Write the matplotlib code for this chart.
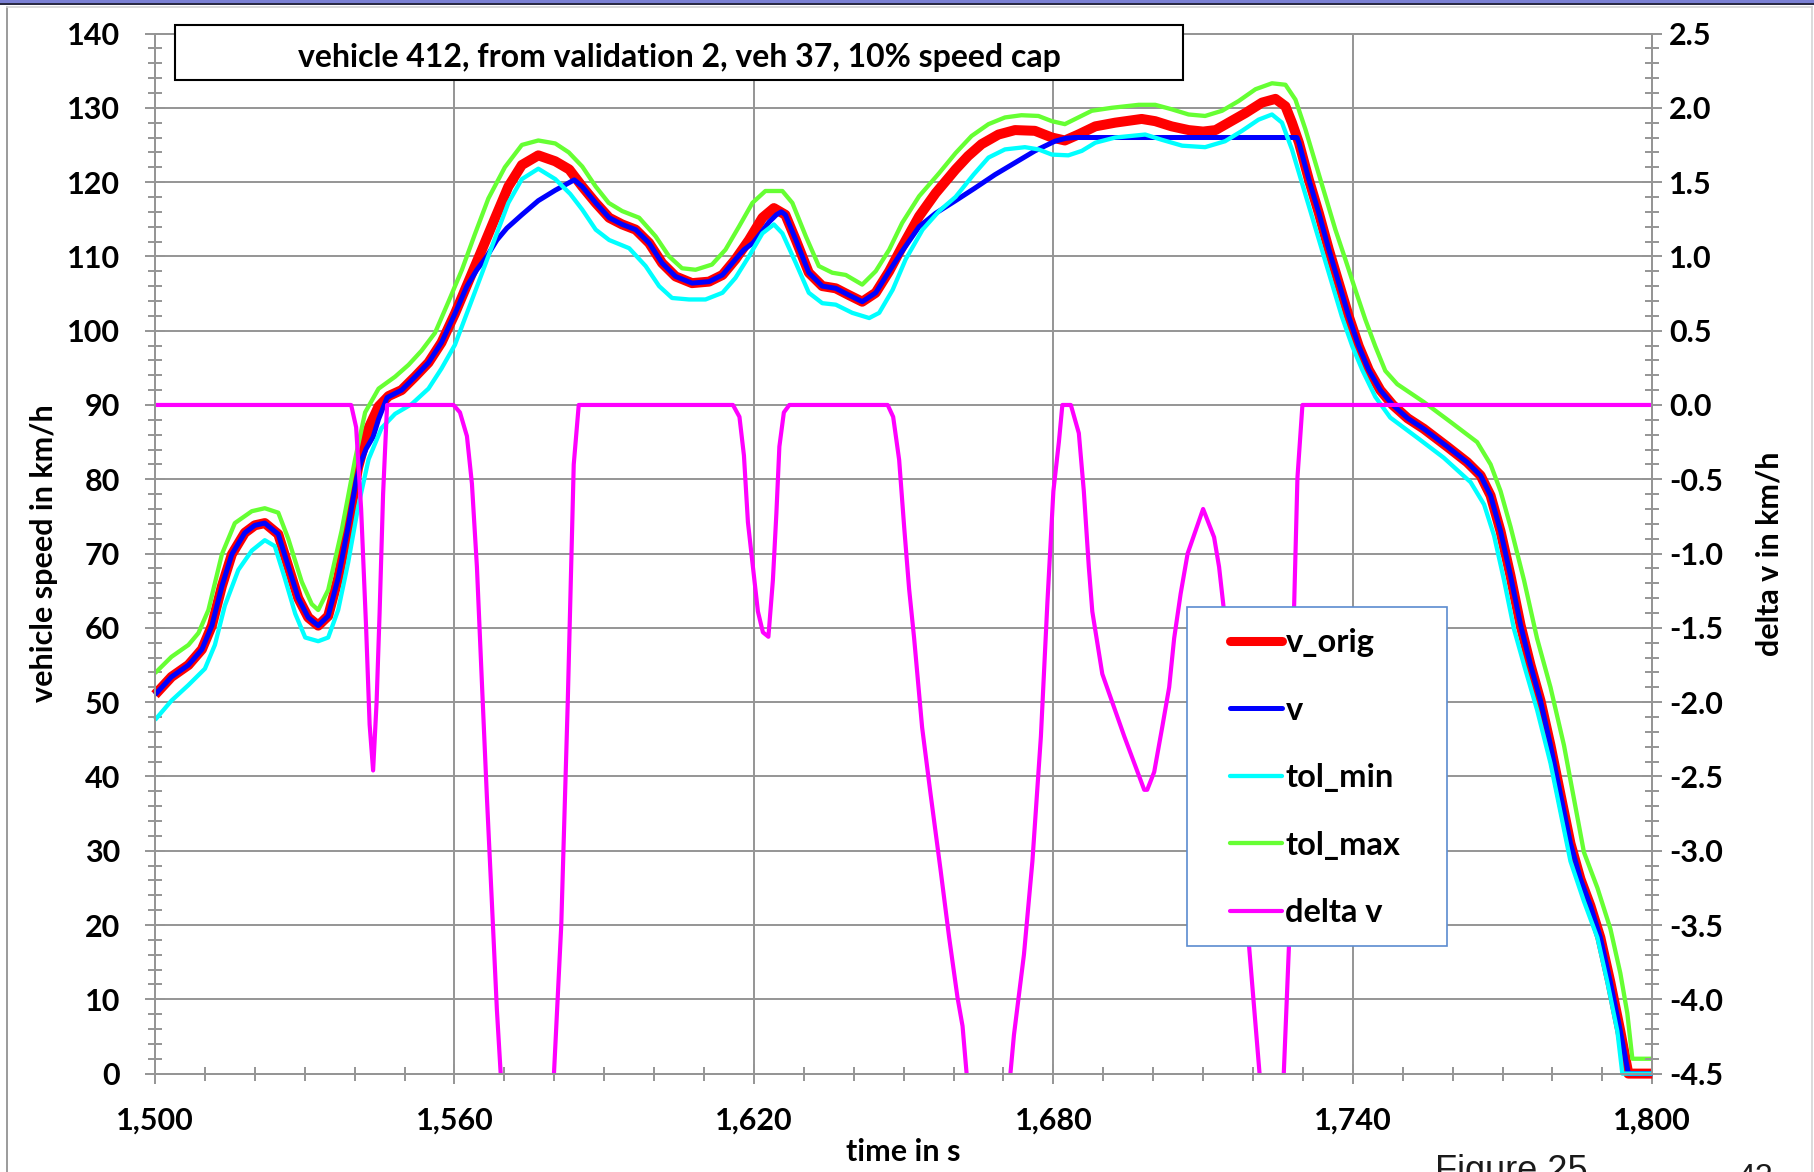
import matplotlib
matplotlib.use("Agg")
import matplotlib.pyplot as plt
from matplotlib.patches import Rectangle
from matplotlib.lines import Line2D
from matplotlib.ticker import MultipleLocator, FuncFormatter

plt.rcParams["font.family"] = ["Lato", "DejaVu Sans"]
plt.rcParams["font.weight"] = "bold"
plt.rcParams["axes.labelweight"] = "bold"
plt.rcParams["axes.unicode_minus"] = False

# ---------------- data (time in s, speed in km/h) ----------------
v_orig_pts = [
    (1500, 51.0), (1503.3, 53.4), (1506.7, 55.0), (1509.4, 57.1), (1511.4, 60.3),
    (1513.4, 65.6), (1515.4, 69.9), (1518, 72.8), (1520, 73.8), (1522, 74.1),
    (1524.7, 72.6), (1526.7, 68.3), (1528.7, 64.0), (1530.7, 61.4), (1532.7, 60.3),
    (1534.7, 61.6), (1536.7, 66.7), (1538.7, 73.6), (1540.7, 81.6), (1542.8, 86.9),
    (1544.8, 89.8), (1546.8, 91.2), (1549.4, 92.0), (1552.1, 93.8), (1554.8, 95.7),
    (1557.4, 98.4), (1560.1, 102.3), (1562.8, 106.6), (1565.5, 110.9), (1568.1, 115.1),
    (1570.8, 119.4), (1573.5, 122.3), (1576.8, 123.6), (1580.2, 122.8), (1583.0, 121.7),
    (1585.6, 119.4), (1588.3, 117.2), (1591, 115.2), (1593.6, 114.3), (1596.3, 113.6),
    (1599, 111.8), (1601.6, 109.1), (1604.3, 107.3), (1607.6, 106.4), (1611, 106.6),
    (1613.7, 107.5), (1616.3, 109.6), (1619, 112.2), (1621.7, 115.2), (1624, 116.5),
    (1626.3, 115.6), (1628.4, 112.2), (1631, 107.8), (1633.7, 106.0), (1636.4, 105.7),
    (1639, 104.8), (1641.7, 103.9), (1644.4, 105.1), (1647.1, 108.0), (1649.7, 111.3),
    (1653.1, 115.4), (1656.4, 118.5), (1660.4, 121.7), (1662.9, 123.5), (1665.6, 125.1),
    (1669, 126.4), (1672.3, 127.0), (1676.3, 126.9), (1679.7, 126.0), (1682.3, 125.6),
    (1685, 126.4), (1688.4, 127.5), (1692.4, 128.0), (1697.7, 128.5), (1700.4, 128.2),
    (1703.7, 127.5), (1707.1, 127.0), (1710, 126.8), (1712.5, 127.0), (1715.1, 128.0),
    (1718.5, 129.3), (1721.8, 130.7), (1724.5, 131.2), (1726.5, 130.2), (1727.8, 128.0),
    (1729.2, 125.3), (1731.2, 120.3), (1733.2, 115.8), (1735.2, 110.9), (1737.2, 106.4),
    (1739.2, 101.9), (1741.2, 97.9), (1743.2, 94.7), (1745.5, 92.0), (1748, 90.0),
    (1751, 88.2), (1754.2, 86.8), (1758.9, 84.4), (1762.9, 82.3), (1765.6, 80.5),
    (1767.6, 77.8), (1769.6, 73.0), (1771.6, 67.0), (1773.6, 60.4), (1775.6, 55.0),
    (1777.6, 50.2), (1779.6, 44.2), (1781.6, 37.6), (1783.6, 31.0), (1785.6, 26.2),
    (1787.6, 22.6), (1789.6, 18.3), (1791.6, 12.3), (1793.6, 5.7), (1795.2, 0.0),
    (1800, 0.0),
]

v_pts = [
    (1500, 51.0), (1503.3, 53.4), (1506.7, 55.0), (1509.4, 57.1), (1511.4, 60.3),
    (1513.4, 65.6), (1515.4, 69.9), (1518, 72.8), (1520, 73.8), (1522, 74.1),
    (1524.7, 72.6), (1526.7, 68.3), (1528.7, 64.0), (1530.7, 61.4), (1532.7, 60.3),
    (1534.7, 61.6), (1536.7, 66.7), (1538.7, 73.6), (1540.3, 79.8), (1541.3, 82.4),
    (1542.3, 84.1), (1543.7, 85.7), (1544.8, 88.1), (1546.5, 91.0), (1549.4, 92.0),
    (1552.1, 93.8), (1554.8, 95.7), (1557.4, 98.4), (1560.1, 102.3), (1562.5, 106.0),
    (1564.5, 108.2), (1566.5, 110.0), (1568.5, 112.2), (1570.5, 113.8), (1573.5, 115.6),
    (1576.8, 117.5), (1580.2, 118.9), (1584.0, 120.3), (1585.6, 119.4), (1588.3, 117.2),
    (1591, 115.2), (1593.6, 114.3), (1596.3, 113.6), (1599, 111.8), (1601.6, 109.1),
    (1604.3, 107.3), (1607.6, 106.4), (1611, 106.6), (1613.7, 107.5), (1616.3, 109.6),
    (1618, 110.9), (1619.8, 111.8), (1621.8, 113.5), (1623, 114.6), (1624.5, 115.6),
    (1625.5, 116.0), (1626.3, 115.6), (1628.4, 112.2), (1631, 107.8), (1633.7, 106.0),
    (1636.4, 105.7), (1639, 104.8), (1641.7, 103.9), (1644.4, 105.1), (1647.1, 108.0),
    (1649.7, 110.7), (1653.1, 114.0), (1656.4, 115.8), (1660.4, 117.5), (1664.3, 119.2),
    (1668.3, 121.0), (1672.3, 122.6), (1676.3, 124.2), (1680.3, 125.5), (1682.5, 125.9),
    (1684.3, 126.0), (1728.8, 126.0), (1729.2, 125.3), (1731.2, 120.3), (1733.2, 115.8),
    (1735.2, 110.9), (1737.2, 106.4), (1739.2, 101.9), (1741.2, 97.9), (1743.2, 94.7),
    (1745.5, 92.0), (1748, 90.0), (1751, 88.2), (1754.2, 86.8), (1758.9, 84.4),
    (1762.9, 82.3), (1765.6, 80.5), (1767.6, 77.8), (1769.6, 73.0), (1771.6, 67.0),
    (1773.6, 60.4), (1775.6, 55.0), (1777.6, 50.2), (1779.6, 44.2), (1781.6, 37.6),
    (1783.6, 31.0), (1785.6, 26.2), (1787.6, 22.6), (1789.6, 18.3), (1791.6, 12.3),
    (1793.6, 5.7), (1795.2, 0.0), (1800, 0.0),
]

tol_min_pts = [
    (1500, 47.6), (1503.3, 50.2), (1506.7, 52.3), (1510, 54.5), (1512, 57.7),
    (1514, 63.0), (1516.7, 67.8), (1519.4, 70.4), (1522, 71.8), (1524, 71.0),
    (1526, 66.7), (1528.1, 61.9), (1530.1, 58.7), (1532.7, 58.2), (1534.7, 58.7),
    (1536.7, 62.4), (1538.7, 68.8), (1540.7, 76.3), (1542.8, 82.7), (1545.4, 86.9),
    (1548.1, 88.8), (1551.4, 90.1), (1554.8, 92.2), (1557.4, 94.9), (1560.1, 98.1),
    (1562.8, 102.9), (1565.5, 107.7), (1568.1, 112.4), (1570.8, 117.2), (1573.5, 120.4),
    (1576.8, 121.8), (1580.2, 120.4), (1583.2, 118.4), (1585.6, 116.3), (1588.3, 113.6),
    (1591, 112.2), (1595, 111.1), (1598.3, 108.7), (1601, 106.0), (1603.6, 104.4),
    (1607, 104.2), (1610.3, 104.2), (1613.7, 105.1), (1616.3, 107.1), (1619, 110.0),
    (1621.7, 113.1), (1624, 114.3), (1625.7, 113.1), (1628.4, 109.1), (1631, 105.1),
    (1633.7, 103.7), (1636.4, 103.5), (1639.7, 102.4), (1643.1, 101.7), (1645.1, 102.4),
    (1647.8, 105.5), (1650.4, 109.6), (1653.8, 113.6), (1657.1, 116.1), (1660.4, 118.0),
    (1664, 121.0), (1667, 123.3), (1670.3, 124.4), (1674.3, 124.7), (1677, 124.4),
    (1679.7, 123.7), (1683, 123.6), (1685.7, 124.2), (1688.4, 125.3), (1692.4, 126.0),
    (1698.4, 126.4), (1701.7, 125.7), (1705.8, 124.9), (1710.4, 124.7), (1714.4, 125.5),
    (1717.8, 126.9), (1721.1, 128.4), (1723.8, 129.1), (1725.8, 128.0), (1727.8, 124.4),
    (1729.8, 119.9), (1731.8, 115.4), (1733.8, 110.9), (1735.8, 106.4), (1737.8, 101.9),
    (1739.9, 97.9), (1741.9, 94.7), (1744.5, 91.1), (1747.5, 88.3), (1752.9, 85.6),
    (1758.2, 82.9), (1763.6, 79.6), (1766.3, 76.6), (1768.3, 72.4), (1770.3, 66.4),
    (1772.3, 59.8), (1774.3, 55.0), (1776.9, 49.0), (1779.6, 41.8), (1781.6, 35.2),
    (1783.6, 28.6), (1786.3, 23.2), (1789, 18.3), (1791, 12.3), (1793, 5.7),
    (1794, 0.0), (1800, 0.0),
]

tol_max_pts = [
    (1500, 53.9), (1503.3, 56.1), (1506.7, 57.7), (1508.7, 59.3), (1510.7, 62.4),
    (1513.4, 69.9), (1516, 74.1), (1519.4, 75.7), (1522, 76.1), (1524.7, 75.5),
    (1526.7, 72.0), (1529.4, 66.2), (1531.4, 63.2), (1532.7, 62.4), (1534.7, 65.1),
    (1537.4, 73.1), (1540.1, 82.7), (1542.1, 89.0), (1544.8, 92.2), (1548.1, 93.8),
    (1550.8, 95.4), (1553.4, 97.3), (1556.1, 99.7), (1558.8, 103.9), (1561.5, 108.2),
    (1564.1, 113.0), (1566.8, 117.8), (1570.1, 122.0), (1573.5, 125.0), (1576.8, 125.6),
    (1580.2, 125.2), (1582.9, 124.0), (1585.6, 122.1), (1588.3, 119.4), (1590.9, 117.2),
    (1593.6, 116.1), (1597, 115.2), (1600.3, 112.7), (1603, 110.0), (1605.6, 108.4),
    (1608.3, 108.2), (1611.6, 108.9), (1614.3, 110.9), (1617, 114.0), (1619.7, 117.2),
    (1622.3, 118.8), (1625.7, 118.8), (1627.7, 117.2), (1630.4, 112.7), (1633, 108.7),
    (1635.7, 107.8), (1638.4, 107.5), (1641.7, 106.2), (1644.4, 108.0), (1647.1, 110.9),
    (1649.7, 114.5), (1653.1, 118.1), (1657.1, 121.2), (1660.4, 123.9), (1663.6, 126.2),
    (1667, 127.8), (1670.3, 128.7), (1673.6, 129.0), (1677, 128.9), (1679.7, 128.2),
    (1682.3, 127.8), (1685, 128.7), (1687.7, 129.6), (1691.7, 130.0), (1697.1, 130.4),
    (1700.4, 130.4), (1703.7, 129.8), (1707.1, 129.1), (1710.4, 128.9), (1713.8, 129.6),
    (1717.1, 130.9), (1720.5, 132.5), (1723.8, 133.3), (1726.5, 133.1), (1728.5, 131.1),
    (1730.5, 127.1), (1732.5, 122.6), (1734.5, 118.1), (1736.5, 113.6), (1738.5, 109.6),
    (1740.5, 105.5), (1742.5, 101.5), (1744.5, 97.9), (1746.5, 94.6), (1748.9, 92.8),
    (1754.2, 90.4), (1759.6, 87.7), (1764.9, 85.0), (1767.6, 82.0), (1769.6, 78.4),
    (1771.6, 73.6), (1774.3, 66.4), (1776.9, 58.6), (1779.6, 52.0), (1782.3, 44.2),
    (1784.3, 37.0), (1786.3, 29.8), (1789, 25.0), (1791.6, 19.5), (1793.6, 13.5),
    (1795, 8.1), (1796, 2.0), (1800, 2.0),
]

# delta v (km/h, secondary axis); values below -4.5 run off the plot area
delta_v_pts = [
    (1500, 0.0), (1539.3, 0.0), (1540.3, -0.15), (1541.3, -0.7), (1542.3, -1.5),
    (1543.0, -2.15), (1543.7, -2.46), (1544.4, -2.0), (1545.0, -1.4), (1545.7, -0.6),
    (1546.5, 0.0), (1559.8, 0.0), (1561.1, -0.05), (1562.5, -0.21), (1563.5, -0.53),
    (1564.5, -1.09), (1565.5, -1.87), (1566.5, -2.64), (1567.5, -3.35), (1568.5, -4.07),
    (1570.5, -5.2), (1573.5, -6.7), (1576.8, -6.1), (1578.5, -5.5), (1579.5, -4.8),
    (1581.4, -3.5), (1582.7, -2.0), (1583.9, -0.4), (1584.9, 0.0), (1615.8, 0.0),
    (1617.1, -0.08), (1618.0, -0.34), (1618.8, -0.79), (1619.8, -1.09), (1620.8, -1.39),
    (1621.8, -1.53), (1622.9, -1.56), (1623.8, -1.18), (1624.5, -0.73), (1625.1, -0.28),
    (1626.0, -0.05), (1627.1, 0.0), (1646.8, 0.0), (1647.9, -0.08), (1649.1, -0.37),
    (1650.1, -0.82), (1651.1, -1.24), (1652.1, -1.57), (1653.7, -2.17), (1655.4, -2.62),
    (1657.4, -3.13), (1659.1, -3.58), (1660.8, -3.99), (1661.8, -4.18), (1664.4, -5.2),
    (1668.3, -5.4), (1670.3, -4.9), (1672.1, -4.24), (1674.1, -3.7), (1675.8, -3.07),
    (1677.5, -2.23), (1678.8, -1.33), (1680.0, -0.58), (1681.1, -0.25), (1681.8, 0.0),
    (1683.5, 0.0), (1685.1, -0.19), (1686.1, -0.58), (1687.1, -1.09), (1687.8, -1.39),
    (1689.8, -1.81), (1694.2, -2.23), (1698.2, -2.59), (1698.8, -2.59), (1700.2, -2.47),
    (1701.8, -2.17), (1703.2, -1.9), (1704.2, -1.57), (1705.5, -1.27), (1706.9, -1.0),
    (1710.0, -0.7), (1712.2, -0.89), (1713.2, -1.09), (1714.2, -1.39), (1716.5, -2.4),
    (1719.2, -3.64), (1721.8, -4.7), (1724.5, -5.2), (1725.8, -4.8), (1727.2, -3.64),
    (1728.2, -1.4), (1728.9, -0.49), (1729.9, 0.0), (1800, 0.0),
]

series_labels = ["v_orig", "v", "tol_min", "tol_max", "delta v"]
title_text = "vehicle 412, from validation 2, veh 37, 10% speed cap"

# ---------------- layout helpers (pixel -> figure fraction) ----------------
W, H, DPI = 1814, 1172, 100


def fx(px):
    return px / W


def fy(py):
    return 1 - py / H


GRID = "#959595"
FS_TICK = 22
FS_LABEL = 22
FS_TITLE = 23
FS_LEG = 23.5
RED, BLUE, CYAN, GREEN, MAGENTA = "#ff0000", "#0000ff", "#00ffff", "#66ff33", "#ff00ff"
LW = {"v_orig": 7.2, "v": 3.6, "tol_min": 3.1, "tol_max": 3.1, "delta v": 3.0}
COLORS = {"v_orig": RED, "v": BLUE, "tol_min": CYAN, "tol_max": GREEN, "delta v": MAGENTA}

fig = plt.figure(figsize=(W / DPI, H / DPI), dpi=DPI)
fig.patch.set_facecolor("white")

AX_L, AX_R, AX_T, AX_B = 155, 1652.3, 33.5, 1073.6
ax = fig.add_axes([fx(AX_L), fy(AX_B), (AX_R - AX_L) / W, (AX_B - AX_T) / H])
ax2 = ax.twinx()

# ---------------- primary axis: speeds ----------------
ax.set_xlim(1500, 1800)
ax.set_ylim(0, 140)
ax.xaxis.set_major_locator(MultipleLocator(60))
ax.xaxis.set_minor_locator(MultipleLocator(10))
ax.yaxis.set_major_locator(MultipleLocator(10))
ax.yaxis.set_minor_locator(MultipleLocator(2))
ax.xaxis.set_major_formatter(FuncFormatter(lambda x, p: f"{x:,.0f}"))
ax.yaxis.set_major_formatter(FuncFormatter(lambda y, p: f"{y:.0f}"))
ax.grid(which="major", color=GRID, lw=1.4)
ax.set_axisbelow(True)
for sp in ax.spines.values():
    sp.set_color(GRID)
    sp.set_linewidth(1.4)
ax.tick_params(which="both", direction="inout", color=GRID, width=1.4,
               labelsize=FS_TICK, labelcolor="black")
ax.tick_params(which="major", length=14)
ax.tick_params(which="minor", length=10.5)
ax.tick_params(axis="y", which="both", right=False, pad=18)
ax.tick_params(axis="x", which="both", top=False, pad=17)

for name, pts in [("v_orig", v_orig_pts), ("v", v_pts),
                  ("tol_min", tol_min_pts), ("tol_max", tol_max_pts)]:
    t, val = zip(*pts)
    ax.plot(t, val, color=COLORS[name], lw=LW[name], solid_joinstyle="round",
            solid_capstyle="butt", clip_on=False)

# ---------------- secondary axis: delta v ----------------
ax2.set_ylim(-4.5, 2.5)
ax2.yaxis.set_major_locator(MultipleLocator(0.5))
ax2.yaxis.set_minor_locator(MultipleLocator(0.1))
ax2.yaxis.set_major_formatter(FuncFormatter(lambda y, p: f"{y:.1f}"))
for sp in ax2.spines.values():
    sp.set_color(GRID)
    sp.set_linewidth(1.4)
ax2.tick_params(axis="y", which="both", direction="inout", color=GRID, width=1.4,
                left=False, labelsize=FS_TICK, labelcolor="black", pad=5)
ax2.tick_params(axis="y", which="major", length=14)
ax2.tick_params(axis="y", which="minor", length=10.5)
t, val = zip(*delta_v_pts)
ax2.plot(t, val, color=MAGENTA, lw=LW["delta v"], solid_joinstyle="round")

# ---------------- axis titles ----------------
ax.set_xlabel("time in s", fontsize=FS_LABEL, fontweight="bold", va="center")
ax.xaxis.set_label_coords(0.5, (AX_B - 1152) / (AX_B - AX_T))
ax.set_ylabel("vehicle speed in km/h", fontsize=FS_LABEL, fontweight="bold", va="center")
ax.yaxis.set_label_coords((44 - AX_L) / (AX_R - AX_L), 0.5)
ax2.set_ylabel("delta v in km/h", fontsize=FS_LABEL, fontweight="bold", va="center",
               rotation=90)
ax2.yaxis.set_label_coords((1770 - AX_L) / (AX_R - AX_L), 0.5)

# ---------------- title box ----------------
fig.add_artist(Rectangle((fx(175), fy(80)), 1008 / W, 54.5 / H, facecolor="white",
                         edgecolor="black", lw=1.5, zorder=4))
fig.text(fx(679), fy(57), title_text, ha="center", va="center", fontsize=FS_TITLE,
         zorder=5)

# ---------------- legend ----------------
fig.add_artist(Rectangle((fx(1186.7), fy(946)), 260 / W, 338.7 / H, facecolor="white",
                         edgecolor="#5b8bd0", lw=1.2, zorder=4))
handles = [Line2D([], [], color=COLORS[n], lw=LW[n] if n != "v_orig" else 6.5,
                  solid_capstyle="round") for n in series_labels]
fig.legend(handles, series_labels, loc="upper left",
           bbox_to_anchor=(fx(1230), fy(628)), frameon=False, fontsize=FS_LEG,
           handlelength=1.6, handletextpad=0.1, labelspacing=1.18,
           borderpad=0, borderaxespad=0)

# ---------------- surrounding frame and page text ----------------
fig.add_artist(Rectangle((0, fy(3)), 1, 3 / H, facecolor="#7b80d4", edgecolor="none", zorder=6))
fig.add_artist(Rectangle((0, fy(5)), 1, 2 / H, facecolor="#2b2b45", edgecolor="none", zorder=6))
fig.add_artist(Line2D([fx(6.5), fx(6.5)], [fy(7), 0], color="#8a8a8a", lw=1.2))
fig.add_artist(Line2D([fx(1812), fx(1812)], [fy(7), 0], color="#d4d4d4", lw=1.2))
fig.add_artist(Line2D([fx(6.5), fx(1812)], [fy(7), fy(7)], color="#d4d4d4", lw=1.2))
fig.text(fx(1435), fy(1181), "Figure 25", fontsize=26, family="Liberation Sans",
         fontweight="normal", va="baseline", color="#1a1a1a")
fig.text(fx(1737), fy(1185.5), "42", fontsize=23, family="Liberation Sans",
         fontweight="normal", va="baseline", color="#1a1a1a")

fig.savefig("out.png", dpi=DPI, facecolor="white")
